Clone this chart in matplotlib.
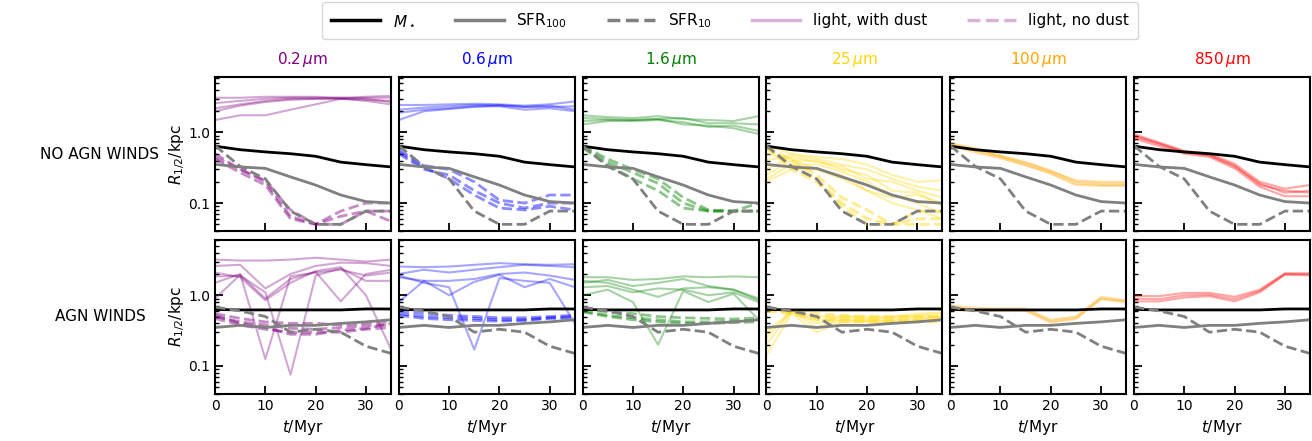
import matplotlib
matplotlib.use("Agg")
import matplotlib.pyplot as plt
from matplotlib.lines import Line2D
from matplotlib.ticker import LogLocator, FuncFormatter, NullFormatter

# time axis (Myr)
t = [0, 5, 10, 15, 20, 25, 30, 35]

# stellar mass / sfr half-mass radii, no agn winds
mstar_nw = [0.64, 0.57, 0.53, 0.50, 0.46, 0.38, 0.35, 0.325]
sfr100_nw = [0.353, 0.325, 0.31, 0.235, 0.18, 0.13, 0.105, 0.10]
sfr10_nw = [0.65, 0.33, 0.22, 0.077, 0.05, 0.05, 0.077, 0.077]

# same, with agn winds
mstar_w = [0.63, 0.62, 0.62, 0.62, 0.62, 0.62, 0.64, 0.64]
sfr100_w = [0.35, 0.375, 0.35, 0.375, 0.375, 0.40, 0.42, 0.45]
sfr10_w = [0.68, 0.60, 0.50, 0.30, 0.33, 0.30, 0.19, 0.15]

bands = ["0.2$\\,\\mu$m", "0.6$\\,\\mu$m", "1.6$\\,\\mu$m", "25$\\,\\mu$m", "100$\\,\\mu$m", "850$\\,\\mu$m"]
band_colors = ["purple", "blue", "green", "gold", "orange", "red"]

# light half-light radii, no agn winds (with dust / no dust), one list per viewing angle
dust_nw_02 = [[3.1, 3.1, 3.2, 3.2, 3.2, 3.1, 3.2, 3.3],
              [2.6, 2.8, 3.0, 3.1, 3.1, 3.0, 2.9, 2.8],
              [2.2, 2.5, 2.8, 3.0, 3.0, 3.1, 3.0, 2.7],
              [2.0, 2.4, 2.7, 2.9, 3.0, 3.0, 2.8, 2.5],
              [1.5, 1.75, 1.75, 2.1, 2.5, 3.0, 3.1, 3.1]]
nodust_nw_02 = [[0.5, 0.3, 0.21, 0.08, 0.05, 0.05, 0.077, 0.077],
                [0.45, 0.3, 0.2, 0.065, 0.05, 0.077, 0.1, 0.1],
                [0.42, 0.27, 0.18, 0.06, 0.05, 0.065, 0.077, 0.055]]
dust_nw_06 = [[2.45, 2.45, 2.5, 2.55, 2.5, 2.4, 2.5, 2.75],
              [2.1, 2.25, 2.35, 2.45, 2.45, 2.3, 2.4, 2.1],
              [1.9, 2.1, 2.2, 2.35, 2.35, 2.1, 2.2, 2.0],
              [1.5, 2.0, 2.15, 2.3, 2.4, 2.3, 2.3, 2.35]]
nodust_nw_06 = [[0.57, 0.34, 0.3, 0.2, 0.11, 0.1, 0.13, 0.13],
                [0.5, 0.3, 0.25, 0.15, 0.1, 0.085, 0.1, 0.1],
                [0.53, 0.32, 0.22, 0.13, 0.085, 0.08, 0.09, 0.08]]
dust_nw_16 = [[1.75, 1.65, 1.6, 1.7, 1.55, 1.5, 1.45, 1.7],
              [1.6, 1.55, 1.5, 1.55, 1.6, 1.35, 1.35, 1.3],
              [1.45, 1.5, 1.45, 1.5, 1.4, 1.2, 1.25, 1.05],
              [1.3, 1.45, 1.5, 1.55, 1.3, 1.25, 1.15, 0.95]]
nodust_nw_16 = [[0.65, 0.42, 0.3, 0.22, 0.12, 0.08, 0.077, 0.077],
                [0.63, 0.38, 0.27, 0.19, 0.1, 0.077, 0.077, 0.1],
                [0.6, 0.35, 0.22, 0.15, 0.085, 0.077, 0.077, 0.077]]
dust_nw_25 = [[0.65, 0.5, 0.45, 0.42, 0.35, 0.25, 0.2, 0.21],
              [0.4, 0.48, 0.42, 0.35, 0.3, 0.22, 0.17, 0.15],
              [0.3, 0.45, 0.38, 0.33, 0.22, 0.2, 0.15, 0.12],
              [0.25, 0.4, 0.4, 0.3, 0.25, 0.15, 0.14, 0.09],
              [0.22, 0.35, 0.35, 0.28, 0.2, 0.13, 0.1, 0.07],
              [0.5, 0.42, 0.3, 0.25, 0.15, 0.12, 0.13, 0.1],
              [0.2, 0.3, 0.3, 0.22, 0.15, 0.1, 0.08, 0.06]]
nodust_nw_25 = [[0.65, 0.4, 0.25, 0.12, 0.08, 0.05, 0.077, 0.077],
                [0.6, 0.35, 0.22, 0.1, 0.06, 0.05, 0.05, 0.05],
                [0.62, 0.3, 0.2, 0.09, 0.05, 0.05, 0.06, 0.06]]
dust_nw_100 = [[0.7, 0.6, 0.47, 0.38, 0.29, 0.2, 0.19, 0.19],
               [0.67, 0.55, 0.45, 0.35, 0.27, 0.19, 0.18, 0.18],
               [0.65, 0.52, 0.43, 0.34, 0.26, 0.18, 0.175, 0.175],
               [0.68, 0.57, 0.46, 0.37, 0.28, 0.21, 0.2, 0.2]]
nodust_nw_100 = []
dust_nw_850 = [[0.95, 0.72, 0.55, 0.5, 0.36, 0.2, 0.16, 0.18],
               [0.88, 0.68, 0.52, 0.47, 0.33, 0.19, 0.14, 0.15],
               [0.82, 0.64, 0.5, 0.45, 0.31, 0.17, 0.125, 0.125],
               [0.9, 0.7, 0.53, 0.48, 0.34, 0.18, 0.15, 0.14]]
nodust_nw_850 = []

# light half-light radii, with agn winds
dust_w_02 = [[3.2, 3.1, 3.1, 3.2, 3.4, 3.2, 3.0, 3.2],
             [2.6, 2.7, 1.25, 2.0, 2.6, 2.9, 2.85, 2.6],
             [1.5, 2.0, 0.125, 1.85, 2.1, 2.3, 1.9, 2.1],
             [1.85, 1.9, 1.1, 0.075, 1.9, 2.4, 1.6, 1.6],
             [0.9, 1.95, 0.9, 1.7, 2.15, 0.82, 2.0, 2.3],
             [2.1, 1.8, 0.85, 1.5, 2.2, 2.5, 1.0, 0.17]]
nodust_w_02 = [[0.55, 0.47, 0.42, 0.4, 0.4, 0.38, 0.4, 0.42],
               [0.5, 0.42, 0.38, 0.34, 0.33, 0.35, 0.37, 0.38],
               [0.47, 0.38, 0.33, 0.3, 0.3, 0.3, 0.33, 0.35],
               [0.52, 0.4, 0.35, 0.28, 0.28, 0.32, 0.34, 0.4]]
dust_w_06 = [[2.55, 2.5, 2.55, 2.7, 2.85, 2.75, 2.7, 2.75],
             [2.0, 2.3, 2.1, 2.3, 2.5, 2.7, 2.6, 2.5],
             [1.8, 1.6, 1.6, 1.7, 2.0, 2.1, 1.9, 1.65],
             [0.8, 1.6, 1.0, 1.55, 1.95, 1.3, 1.7, 1.3],
             [1.9, 1.5, 1.3, 0.17, 1.75, 1.6, 1.5, 0.4]]
nodust_w_06 = [[0.6, 0.55, 0.52, 0.5, 0.48, 0.48, 0.5, 0.52],
               [0.55, 0.5, 0.48, 0.47, 0.45, 0.45, 0.48, 0.5],
               [0.52, 0.47, 0.45, 0.44, 0.43, 0.44, 0.47, 0.47]]
dust_w_16 = [[1.8, 1.8, 1.65, 1.7, 1.85, 1.8, 1.85, 1.8],
             [1.5, 1.65, 1.35, 1.5, 1.7, 1.35, 1.2, 0.9],
             [1.3, 1.35, 1.1, 1.25, 1.2, 1.0, 1.1, 0.8],
             [1.0, 1.2, 0.8, 0.2, 1.15, 0.8, 1.05, 0.45],
             [1.6, 1.5, 1.2, 0.95, 1.25, 1.3, 1.2, 0.85]]
nodust_w_16 = [[0.65, 0.58, 0.55, 0.5, 0.48, 0.47, 0.46, 0.48],
               [0.6, 0.52, 0.48, 0.45, 0.42, 0.42, 0.43, 0.44],
               [0.58, 0.5, 0.45, 0.42, 0.4, 0.4, 0.41, 0.42]]
dust_w_25 = [[0.14, 0.55, 0.3, 0.42, 0.42, 0.4, 0.45, 0.48],
             [0.2, 0.6, 0.35, 0.45, 0.45, 0.45, 0.5, 0.5],
             [0.25, 0.62, 0.4, 0.5, 0.47, 0.48, 0.52, 0.55],
             [0.3, 0.58, 0.45, 0.45, 0.43, 0.43, 0.47, 0.5],
             [0.65, 0.6, 0.5, 0.5, 0.5, 0.5, 0.55, 0.57]]
nodust_w_25 = [[0.68, 0.6, 0.55, 0.52, 0.5, 0.5, 0.5, 0.5],
               [0.62, 0.57, 0.5, 0.47, 0.46, 0.45, 0.45, 0.45],
               [0.6, 0.55, 0.45, 0.42, 0.42, 0.42, 0.42, 0.42]]
dust_w_100 = [[0.72, 0.66, 0.65, 0.65, 0.45, 0.5, 0.95, 0.85],
              [0.68, 0.63, 0.62, 0.62, 0.43, 0.48, 0.9, 0.82],
              [0.62, 0.6, 0.6, 0.6, 0.41, 0.46, 0.88, 0.8]]
nodust_w_100 = []
dust_w_850 = [[0.98, 0.97, 1.08, 1.08, 0.95, 1.2, 2.05, 2.05],
              [0.9, 0.88, 1.0, 1.02, 0.88, 1.15, 2.0, 1.98],
              [0.82, 0.82, 0.93, 0.97, 0.82, 1.1, 1.95, 1.92]]
nodust_w_850 = []

rows = [
    ("NO AGN WINDS", mstar_nw, sfr100_nw, sfr10_nw,
     [dust_nw_02, dust_nw_06, dust_nw_16, dust_nw_25, dust_nw_100, dust_nw_850],
     [nodust_nw_02, nodust_nw_06, nodust_nw_16, nodust_nw_25, nodust_nw_100, nodust_nw_850]),
    ("AGN WINDS", mstar_w, sfr100_w, sfr10_w,
     [dust_w_02, dust_w_06, dust_w_16, dust_w_25, dust_w_100, dust_w_850],
     [nodust_w_02, nodust_w_06, nodust_w_16, nodust_w_25, nodust_w_100, nodust_w_850]),
]

fig, axes = plt.subplots(2, 6, figsize=(13.12, 4.41), dpi=100, sharex=True, sharey=True)
fig.subplots_adjust(left=0.1639, right=0.9985, top=0.8254, bottom=0.1066,
                    wspace=0.044, hspace=0.056)

for i, (label, mstar, sfr100, sfr10, dust, nodust) in enumerate(rows):
    for j in range(6):
        ax = axes[i, j]
        c = band_colors[j]
        for y in dust[j]:
            ax.plot(t, y, color=c, alpha=0.35, lw=1.5)
        for y in nodust[j]:
            ax.plot(t, y, color=c, alpha=0.45, lw=2, ls="--")
        ax.plot(t, mstar, color="black", lw=2)
        ax.plot(t, sfr100, color="grey", lw=2)
        ax.plot(t, sfr10, color="grey", lw=2, ls="--")

        ax.set_yscale("log")
        ax.set_ylim(0.04, 6.1)
        ax.set_xlim(0, 35)
        ax.set_xticks([0, 10, 20, 30])
        ax.yaxis.set_major_locator(LogLocator(base=10, numticks=10))
        ax.yaxis.set_minor_locator(LogLocator(base=10, subs=range(2, 10), numticks=20))
        ax.yaxis.set_major_formatter(FuncFormatter(lambda v, p: f"{v:.1f}"))
        ax.yaxis.set_minor_formatter(NullFormatter())
        ax.tick_params(which="major", direction="in", length=6, width=1.3, labelsize=10)
        ax.tick_params(which="minor", direction="in", length=3, width=1.0)
        for s in ax.spines.values():
            s.set_linewidth(1.5)

        if i == 0:
            ax.set_title(bands[j], color=c, fontsize=11, pad=9)
        if i == 1:
            ax.set_xlabel("$t$/Myr", fontsize=11)
        if j == 0:
            ax.set_ylabel("$R_{1/2}$/kpc", fontsize=11, labelpad=1)
        else:
            ax.tick_params(labelleft=False)

    ycen = (axes[i, 0].get_position().y0 + axes[i, 0].get_position().y1) / 2
    fig.text(100 / 1312, ycen, label, ha="center", va="center", fontsize=11)

handles = [
    Line2D([], [], color="black", lw=2.5),
    Line2D([], [], color="grey", lw=2.5),
    Line2D([], [], color="grey", lw=2.5, ls="--"),
    Line2D([], [], color="purple", alpha=0.3, lw=2.5),
    Line2D([], [], color="purple", alpha=0.3, lw=2.5, ls="--"),
]
labels = ["$M_\\star$", "SFR$_{100}$", "SFR$_{10}$", "light, with dust", "light, no dust"]
fig.legend(handles, labels, loc="upper center", bbox_to_anchor=(730 / 1312, 1.0),
           ncol=5, fontsize=11, handlelength=3.2, columnspacing=2.6,
           borderpad=0.6, borderaxespad=0.15)

fig.savefig("out.png", dpi=100)
